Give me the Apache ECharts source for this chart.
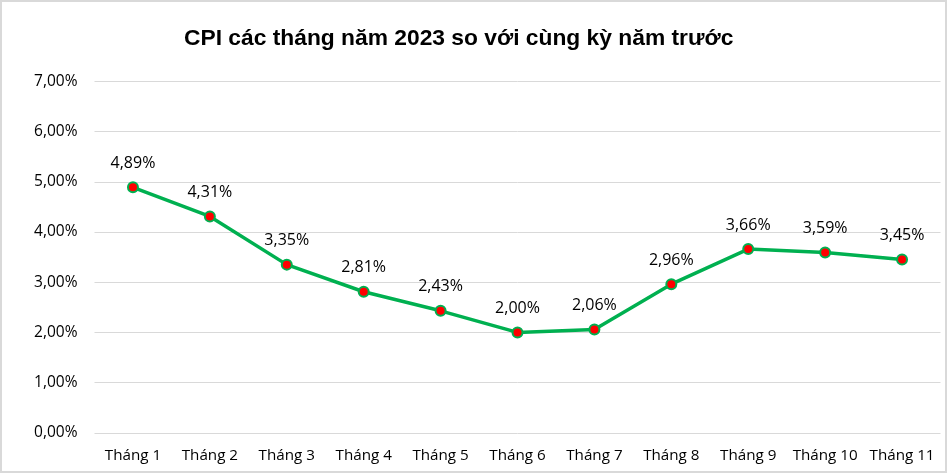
<!DOCTYPE html>
<html>
<head>
<meta charset="utf-8">
<script src="https://cdn.jsdelivr.net/npm/echarts@6/dist/echarts.min.js"></script>
<style>
html,body{margin:0;padding:0;background:#fff;}
#chart{width:947px;height:473px;}
</style>
</head>
<body>
<div id="chart"></div>
<script>
const categories = ['Tháng 1','Tháng 2','Tháng 3','Tháng 4','Tháng 5','Tháng 6','Tháng 7','Tháng 8','Tháng 9','Tháng 10','Tháng 11'];
const cpiValues = [4.89, 4.31, 3.35, 2.81, 2.43, 2.00, 2.06, 2.96, 3.66, 3.59, 3.45];
const titleText = 'CPI các tháng năm 2023 so với cùng kỳ năm trước';

const fmt = v => v.toFixed(2).replace('.', ',') + '%';
const FONT = 'Open Sans, Noto Sans, sans-serif';
const chart = echarts.init(document.getElementById('chart'));
chart.setOption({
  backgroundColor: '#fff',
  animation: false,
  title: {
    text: titleText,
    left: 179,
    top: 22,
    textStyle: { fontFamily: 'Liberation Sans, Arial', fontWeight: 'bold', fontSize: 22.8, color: '#000' }
  },
  graphic: [{
    type: 'rect',
    shape: { x: 1, y: 1, width: 945, height: 471 },
    style: { fill: 'none', stroke: '#d9d9d9', lineWidth: 2 },
    silent: true
  }],
  grid: { left: 94.5, right: 6.5, top: 81.4, bottom: 40.2, containLabel: false },
  xAxis: {
    type: 'category',
    data: categories,
    boundaryGap: true,
    axisLine: { show: false },
    axisTick: { show: false },
    axisLabel: { color: '#000', fontSize: 15.2, fontFamily: FONT, margin: 15, interval: 0, hideOverlap: false }
  },
  yAxis: {
    type: 'value',
    min: 0, max: 7, interval: 1,
    axisLine: { show: false },
    axisTick: { show: false },
    splitLine: { lineStyle: { color: '#d9d9d9', width: 1 } },
    axisLabel: { color: '#000', fontSize: 15.5, fontFamily: FONT, margin: 17, formatter: v => fmt(v) }
  },
  series: [{
    type: 'line',
    data: cpiValues,
    lineStyle: { color: '#00B050', width: 3.5 },
    itemStyle: { color: '#FF0000', borderColor: '#00B050', borderWidth: 2 },
    symbol: 'circle',
    symbolSize: 10,
    label: {
      show: true, position: 'top', distance: 10,
      color: '#000', fontSize: 16, fontFamily: FONT,
      formatter: p => fmt(p.value)
    }
  }]
});
</script>
</body>
</html>
